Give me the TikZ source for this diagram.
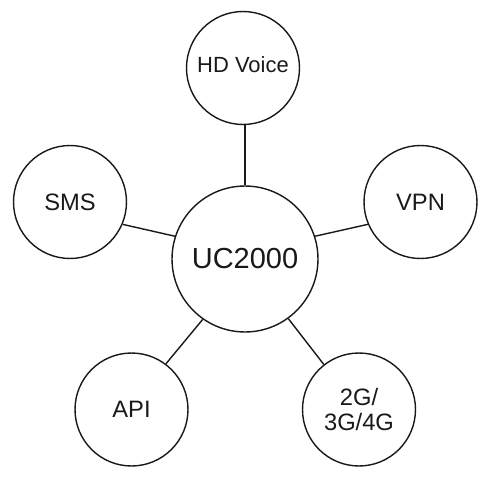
\documentclass[tikz,border=0pt]{standalone}
\usepackage{fontspec}
\setmainfont{Liberation Sans}
\begin{document}
\begin{tikzpicture}[x=0.02cm,y=-0.02cm]
\tikzset{
  bubble/.style={circle, draw=black!90, line width=0.8pt, inner sep=0pt, minimum size=2.26cm,
    font=\fontsize{13.5}{14.6}\selectfont, align=center, text=black!90},
  hub/.style={bubble, minimum size=2.92cm, font=\fontsize{16.5}{18}\selectfont},
  link/.style={draw=black!90, line width=0.8pt}
}
\useasboundingbox (0,0) rectangle (500,500);
\node[hub] (uc) at (245,259) {UC2000};
\node[bubble, font=\fontsize{12.5}{14}\selectfont] (hd) at (243,68) {\raisebox{3.4pt}{HD Voice}};
\node[bubble] (sms) at (70,202) {SMS};
\node[bubble] (vpn) at (420.5,202) {VPN};
\node[bubble] (api) at (131.5,409.5) {API};
\node[bubble] (g) at (359,409.5) {2G/\\3G/4G};
\draw[link] (uc.north) -- (uc.north |- hd.south);
\draw[link] (sms.-23) -- (uc.162);
\draw[link] (vpn.-157) -- (uc.18);
\draw[link] (api.53) -- (uc.-125);
\draw[link] (g.128) -- (uc.-54);
\end{tikzpicture}
\end{document}
